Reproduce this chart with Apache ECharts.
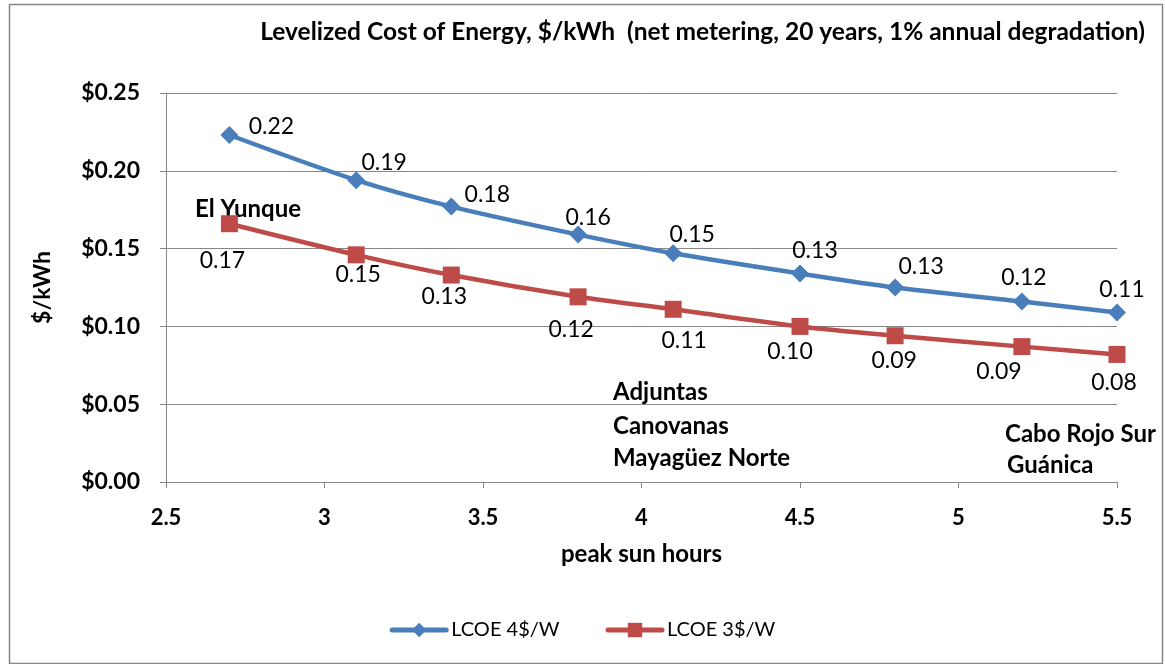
<!DOCTYPE html>
<html>
<head>
<meta charset="utf-8">
<script src="https://cdn.jsdelivr.net/npm/echarts@6/dist/echarts.min.js"></script>
<style>html,body{margin:0;padding:0;background:#fff}#chart{width:1165px;height:664px}</style>
</head>
<body>
<div id="chart"></div>
<script>
// ---- data ----
const sunHours = [2.7, 3.1, 3.4, 3.8, 4.1, 4.5, 4.8, 5.2, 5.5];
const lcoe4 = [0.223, 0.194, 0.177, 0.159, 0.147, 0.134, 0.125, 0.116, 0.109];
const lcoe3 = [0.166, 0.146, 0.133, 0.119, 0.111, 0.100, 0.094, 0.087, 0.082];
const seriesNames = ['LCOE 4$/W', 'LCOE 3$/W'];
const yTicks = [0, 0.05, 0.10, 0.15, 0.20, 0.25];
const xTicks = [2.5, 3, 3.5, 4, 4.5, 5, 5.5];
const titleText = 'Levelized Cost of Energy, $/kWh  (net metering, 20 years, 1% annual degradation)';
const siteNotes = ['El Yunque', 'Adjuntas', 'Canovanas', 'Mayagüez Norte', 'Cabo Rojo Sur', 'Guánica'];

// ---- label nudges (styling, px) ----
const blueNudge = [[42,-8],[28,-18],[36,-12],[10,-17],[19,-19],[15,-23],[26,-21],[2,-24],[5,-23]];
const redNudge = [[-7,37],[2,20],[-7,22],[-7,33],[11,31],[-10,25],[-1,25],[-23,25],[-3,28]];

const FONT = 'Lato, "Open Sans", sans-serif';
const chart = echarts.init(document.getElementById('chart'));

function build(vals, nudge) {
  return sunHours.map((x, i) => ({ value: [x, vals[i]], label: { offset: nudge[i] } }));
}

const noteStyle = { fontFamily: FONT, fontWeight: 'bold', fontSize: 24, fill: '#000' };

chart.setOption({
  animation: false,
  backgroundColor: '#fff',
  title: {
    text: titleText, right: 15, top: 15,
    textStyle: { fontFamily: FONT, fontWeight: 'bold', fontSize: 24.5, color: '#000' }
  },
  grid: { left: 166, right: 48, top: 93, bottom: 182 },
  legend: {
    bottom: 19, left: 'center', itemWidth: 54, itemHeight: 18, itemGap: 46,
    textStyle: { fontFamily: FONT, fontSize: 20, color: '#000' },
    lineStyle: { width: 5, cap: 'round' },
    data: seriesNames
  },
  xAxis: {
    type: 'value', min: 2.5, max: 5.5, interval: 0.5,
    name: 'peak sun hours', nameLocation: 'middle', nameGap: 60,
    nameTextStyle: { fontFamily: FONT, fontWeight: 'bold', fontSize: 24, color: '#000' },
    axisLine: { lineStyle: { color: '#868686', width: 1 } },
    axisTick: { show: true, inside: false, length: 6, lineStyle: { color: '#868686' } },
    axisLabel: { fontFamily: FONT, fontWeight: 'bold', fontSize: 22, color: '#000', margin: 25,
      formatter: v => String(xTicks.find(t => Math.abs(t - v) < 1e-9) ?? v) },
    splitLine: { show: false }
  },
  yAxis: {
    type: 'value', min: 0, max: 0.25, interval: 0.05,
    name: '$/kWh', nameLocation: 'middle', nameGap: 112, nameRotate: 90,
    nameTextStyle: { fontFamily: FONT, fontWeight: 'bold', fontSize: 23, color: '#000' },
    axisLine: { show: true, lineStyle: { color: '#868686', width: 1 } },
    axisTick: { show: true, inside: false, length: 6, lineStyle: { color: '#868686' } },
    axisLabel: { fontFamily: FONT, fontWeight: 'bold', fontSize: 23, color: '#000', margin: 26,
      formatter: v => '$' + (yTicks.find(t => Math.abs(t - v) < 1e-9) ?? v).toFixed(2) },
    splitLine: { show: true, lineStyle: { color: '#868686', width: 1 } }
  },
  series: [
    {
      name: seriesNames[0], type: 'line', data: build(lcoe4, blueNudge),
      symbol: 'diamond', symbolSize: [18, 18], smooth: 0.3,
      lineStyle: { color: '#4A7EBB', width: 4.5 },
      itemStyle: { color: '#4A7EBB' },
      label: { show: true, position: 'inside', fontFamily: FONT, fontSize: 23, color: '#000',
        formatter: p => p.value[1].toFixed(2) },
      z: 3
    },
    {
      name: seriesNames[1], type: 'line', data: build(lcoe3, redNudge),
      symbol: 'rect', symbolSize: [17, 17], smooth: 0.3,
      lineStyle: { color: '#BE4B48', width: 4.5 },
      itemStyle: { color: '#BE4B48' },
      label: { show: true, position: 'inside', fontFamily: FONT, fontSize: 23, color: '#000',
        formatter: p => p.value[1].toFixed(2) },
      z: 2
    }
  ],
  graphic: [
    { type: 'rect', left: 7, top: 2, shape: { width: 1153, height: 659 },
      style: { fill: 'none', stroke: '#868686', lineWidth: 1.5 }, silent: true, z: -1 },
    { type: 'text', left: 195, top: 197, style: Object.assign({ text: siteNotes[0] }, noteStyle) },
    { type: 'text', left: 613, top: 380, style: Object.assign({ text: siteNotes[1] }, noteStyle) },
    { type: 'text', left: 613, top: 414, style: Object.assign({ text: siteNotes[2] }, noteStyle) },
    { type: 'text', left: 613, top: 446, style: Object.assign({ text: siteNotes[3] }, noteStyle) },
    { type: 'text', left: 1005, top: 422, style: Object.assign({ text: siteNotes[4] }, noteStyle) },
    { type: 'text', left: 1007, top: 453, style: Object.assign({ text: siteNotes[5] }, noteStyle) }
  ]
});
</script>
</body>
</html>
